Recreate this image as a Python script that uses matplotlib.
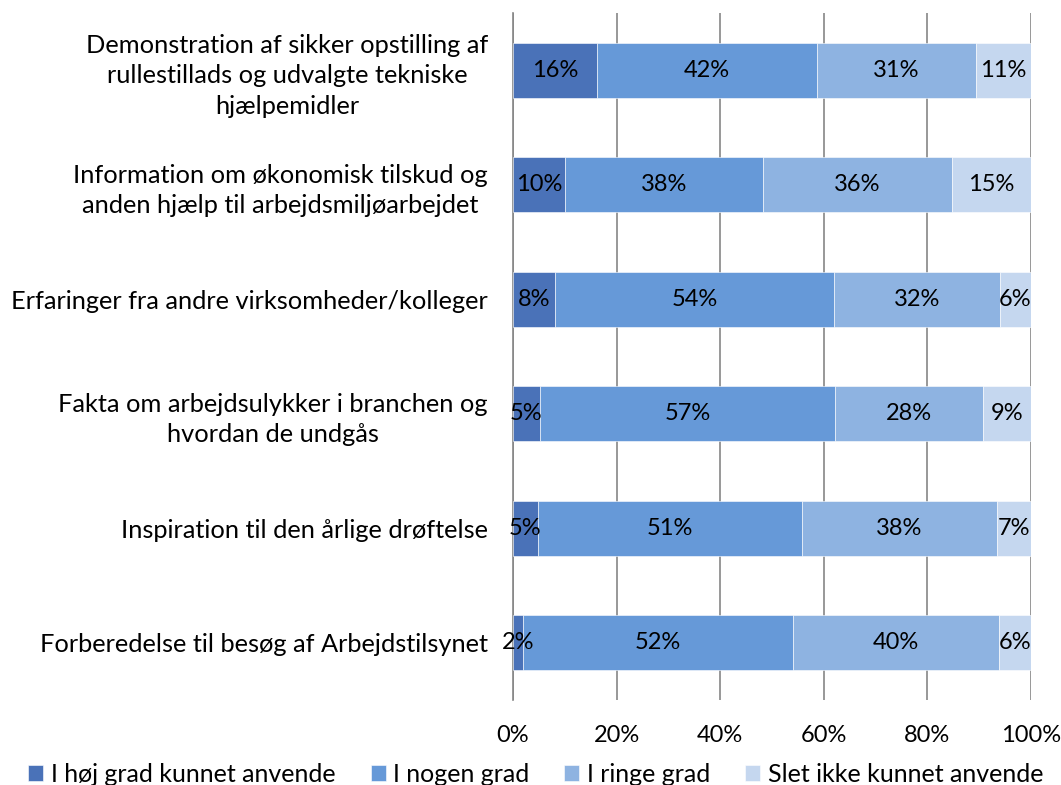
import matplotlib.pyplot as plt
import numpy as np

plt.rcParams['font.family'] = ['Lato', 'DejaVu Sans']

# Categories top to bottom
categories = [
    "Demonstration af sikker opstilling af\nrullestillads og udvalgte tekniske\nhjælpemidler",
    "Information om økonomisk tilskud og\nanden hjælp til arbejdsmiljøarbejdet",
    "Erfaringer fra andre virksomheder/kolleger",
    "Fakta om arbejdsulykker i branchen og\nhvordan de undgås",
    "Inspiration til den årlige drøftelse",
    "Forberedelse til besøg af Arbejdstilsynet",
]
series_names = ["I høj grad kunnet anvende", "I nogen grad", "I ringe grad",
                "Slet ikke kunnet anvende"]
hoej = [16.2, 10.0, 8.1, 5.2, 4.8, 1.9]
nogen = [42.5, 38.3, 53.9, 57.0, 51.0, 52.2]
ringe = [30.7, 36.4, 32.0, 28.5, 37.6, 39.7]
slet = [10.6, 15.3, 6.0, 9.3, 6.6, 6.2]
labels = [
    ["16%", "10%", "8%", "5%", "5%", "2%"],
    ["42%", "38%", "54%", "57%", "51%", "52%"],
    ["31%", "36%", "32%", "28%", "38%", "40%"],
    ["11%", "15%", "6%", "9%", "7%", "6%"],
]
colors = ["#4a72b8", "#6699d8", "#8eb3e1", "#c5d7ef"]

fig = plt.figure(figsize=(10.61, 7.85), dpi=100)
ax = fig.add_axes([0.4835, 0.1083, 0.4882, 0.8751])

y = np.arange(len(categories))
left = np.zeros(len(categories))
for vals, name, col, labs in zip([hoej, nogen, ringe, slet], series_names, colors, labels):
    vals = np.array(vals)
    bars = ax.barh(y, vals, left=left, height=0.48, color=col, label=name,
                   edgecolor='white', linewidth=0.4, zorder=3)
    for b, lab in zip(bars, labs):
        ax.text(b.get_x() + b.get_width() / 2, b.get_y() + b.get_height() / 2, lab,
                ha='center', va='center', fontsize=17, color='black', zorder=4)
    left += vals

ax.set_xlim(0, 100)
ax.set_ylim(len(categories) - 0.5, -0.5)
ax.set_xticks(np.arange(0, 101, 20))
ax.set_xticklabels([f"{v}%" for v in range(0, 101, 20)], fontsize=17)
ax.set_yticks(y)
ax.set_yticklabels(categories, fontsize=18.3)
for lab in ax.get_yticklabels():
    lab.set_multialignment('center')
    lab.set_linespacing(1.38)
ax.tick_params(axis='y', length=0, pad=18)
ax.tick_params(axis='x', length=0, pad=18)
ax.grid(axis='x', color='#868686', linewidth=1.2, zorder=0)
for s in ['top', 'right', 'bottom']:
    ax.spines[s].set_visible(False)
ax.spines['left'].set_color('#868686')
ax.spines['left'].set_linewidth(1.2)

fig.legend(loc='lower center', bbox_to_anchor=(0.505, -0.03), ncol=4, frameon=False,
           fontsize=18, handlelength=0.6, handleheight=0.6, handletextpad=0.3,
           columnspacing=1.4)

fig.savefig("out.png", dpi=100)
